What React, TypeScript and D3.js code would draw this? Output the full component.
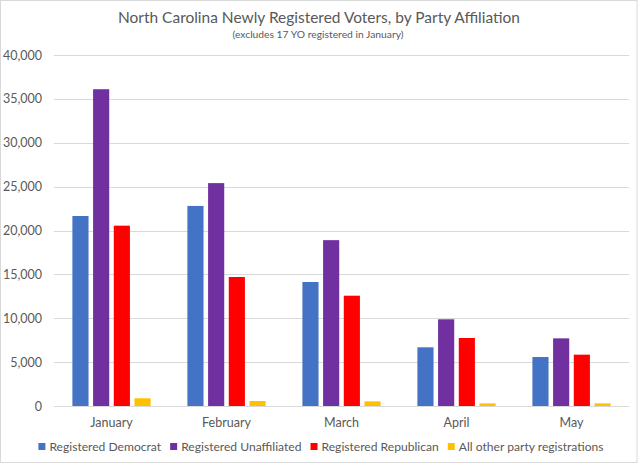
import React, { useEffect, useRef } from "react";
import * as d3 from "d3";

const months = ["January", "February", "March", "April", "May"];
const seriesNames = [
  "Registered Democrat",
  "Registered Unaffiliated",
  "Registered Republican",
  "All other party registrations",
];
const seriesColors = ["#4472C4", "#7030A0", "#FF0000", "#FFC000"];
const democrat = [21650, 22800, 14130, 6690, 5580];
const unaffiliated = [36100, 25400, 18900, 9880, 7710];
const republican = [20550, 14700, 12570, 7750, 5850];
const other = [880, 570, 530, 300, 300];
const yTicks = [0, 5000, 10000, 15000, 20000, 25000, 30000, 35000, 40000];
const title = "North Carolina Newly Registered Voters, by Party Affiliation";
const subtitle = "(excludes 17 YO registered in January)";

const W = 640;
const H = 464;
const FONT = "Lato, 'Open Sans', 'Liberation Sans', sans-serif";
const TEXT = "#595959";
const GRID = "#D9D9D9";

export default function App() {
  const ref = useRef<SVGSVGElement | null>(null);

  useEffect(() => {
    const svg = d3.select(ref.current);
    svg.selectAll("*").remove();

    const seriesValues = [democrat, unaffiliated, republican, other];

    svg
      .append("rect")
      .attr("x", 0.5)
      .attr("y", 0.5)
      .attr("width", 636.5)
      .attr("height", 462)
      .attr("fill", "#fff")
      .attr("stroke", GRID)
      .attr("stroke-width", 1);

    const x0 = d3
      .scaleBand<string>()
      .domain(months)
      .range([54, 629])
      .paddingInner(0.32)
      .paddingOuter(0.16);
    const x1 = d3
      .scaleBand<string>()
      .domain(seriesNames)
      .range([0, x0.bandwidth()])
      .paddingInner(0.22);
    const y = d3.scaleLinear().domain([0, 40000]).range([406, 55]);

    // gridlines
    const g = svg.append("g");
    g.selectAll("line.grid")
      .data(yTicks)
      .enter()
      .append("line")
      .attr("x1", 54)
      .attr("x2", 629)
      .attr("y1", (d) => Math.round(y(d)) + 0.5)
      .attr("y2", (d) => Math.round(y(d)) + 0.5)
      .attr("stroke", GRID)
      .attr("stroke-width", 1);

    g.selectAll("text.ytick")
      .data(yTicks)
      .enter()
      .append("text")
      .attr("x", 42)
      .attr("y", (d) => y(d))
      .attr("dy", "0.36em")
      .attr("text-anchor", "end")
      .attr("font-family", FONT)
      .attr("font-size", 12.5)
      .attr("fill", TEXT)
      .text((d) => d3.format(",")(d));

    // bars
    seriesNames.forEach((s, si) => {
      svg
        .append("g")
        .selectAll("rect")
        .data(months.map((m, i) => ({ m, v: seriesValues[si][i] })))
        .enter()
        .append("rect")
        .attr("x", (d) => (x0(d.m) as number) + (x1(s) as number))
        .attr("width", x1.bandwidth())
        .attr("y", (d) => y(d.v))
        .attr("height", (d) => y(0) - y(d.v))
        .attr("fill", seriesColors[si]);
    });

    // x labels
    svg
      .append("g")
      .selectAll("text")
      .data(months)
      .enter()
      .append("text")
      .attr("x", (d) => (x0(d) as number) + x0.bandwidth() / 2)
      .attr("y", 427)
      .attr("text-anchor", "middle")
      .attr("font-family", FONT)
      .attr("font-size", 12.5)
      .attr("fill", TEXT)
      .text((d) => d);

    // title
    svg
      .append("text")
      .attr("x", 319)
      .attr("y", 23)
      .attr("text-anchor", "middle")
      .attr("font-family", FONT)
      .attr("font-size", 16)
      .attr("fill", TEXT)
      .attr("textLength", 402)
      .attr("lengthAdjust", "spacingAndGlyphs")
      .text(title);
    svg
      .append("text")
      .attr("x", 318)
      .attr("y", 38)
      .attr("text-anchor", "middle")
      .attr("font-family", FONT)
      .attr("font-size", 10)
      .attr("fill", TEXT)
      .attr("textLength", 171)
      .attr("lengthAdjust", "spacingAndGlyphs")
      .text(subtitle);

    // legend
    const lg = svg.append("g");
    const items = seriesNames.map((s, i) => {
      const it = lg.append("g");
      it.append("rect")
        .attr("x", 0)
        .attr("y", -7.5)
        .attr("width", 7)
        .attr("height", 7)
        .attr("fill", seriesColors[i]);
      const t = it
        .append("text")
        .attr("x", 11)
        .attr("y", 0)
        .attr("font-family", FONT)
        .attr("font-size", 12.1)
        .attr("fill", TEXT)
        .text(s);
      const w = (t.node() as SVGTextElement).getComputedTextLength();
      return { it, w: 11 + w };
    });
    const gap = 9;
    const total = items.reduce((a, b) => a + b.w, 0) + gap * (items.length - 1);
    let cx = 321 - total / 2;
    items.forEach((o) => {
      o.it.attr("transform", `translate(${cx},450.5)`);
      cx += o.w + gap;
    });
  }, []);

  return (
    <div style={{ position: "fixed", left: 0, top: 0, width: W, height: H, background: "#fff" }}>
      <svg ref={ref} width={W} height={H} style={{ display: "block" }} />
    </div>
  );
}
